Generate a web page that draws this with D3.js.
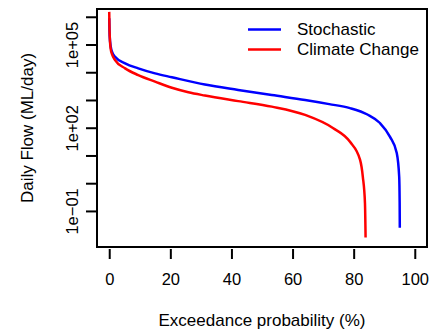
<!DOCTYPE html>
<html>
<head>
<meta charset="utf-8">
<script src="https://cdn.jsdelivr.net/npm/d3@7"></script>
<style>
  body { margin: 0; background: #fff; }
  text { font-family: "Liberation Sans", Arial, sans-serif; fill: #000; }
</style>
</head>
<body>
<script>
// exceedance probability (%) and daily flow (ML/day)
const stochProb = [0, 0.15, 0.5, 1, 1.9, 5.2, 9.5, 15, 20.5, 31.3, 42.2, 53.2, 64.1, 72, 78.8, 84.5, 88.6, 91.9, 94.1, 94.9, 95.05, 95.1];
const stochFlow = [8.9e5, 2.0e5, 8.3e4, 5.2e4, 3.6e4, 2.1e4, 1.38e4, 9.1e3, 6.6e3, 3.6e3, 2.3e3, 1.5e3, 1.0e3, 710, 510, 300, 148, 47, 12.3, 1.7, 0.2, 0.025];

const ccProb = [0, 0.1, 0.45, 1, 1.9, 5.2, 9.5, 15, 20.5, 25.9, 31.3, 42.2, 53.2, 64.1, 73.2, 78.8, 82.1, 83.0, 83.7, 83.9];
const ccFlow = [1.5e6, 3.2e5, 7.2e4, 4.2e4, 2.75e4, 1.38e4, 7.9e3, 4.6e3, 2.75e3, 1.9e3, 1.45e3, 910, 575, 290, 98, 31, 6.9, 1.7, 0.19, 0.011];

const xTicks = [0, 20, 40, 60, 80, 100];
const yTicks = [0.1, 1, 10, 100, 1e3, 1e4, 1e5, 1e6];
const yTickLabels = ["1e\u221201", "", "", "1e+02", "", "", "1e+05", ""];

const series = [
  { name: "Stochastic", prob: stochProb, flow: stochFlow, color: "#0000ff" },
  { name: "Climate Change", prob: ccProb, flow: ccFlow, color: "#ff0000" }
];

const width = 430, height = 335;
const box = { left: 97, right: 427, top: 9, bottom: 247 };

const svg = d3.select("body").append("svg").attr("width", width).attr("height", height);

const x = d3.scaleLinear().domain([-4, 104]).range([box.left, box.right]);
const y = d3.scaleLog().domain([Math.pow(10, -2.3), Math.pow(10, 6.28)]).range([box.bottom, box.top]);

// curves
const line = d3.line()
  .x(d => x(d[0]))
  .y(d => y(d[1]))
  .curve(d3.curveMonotoneX);

svg.append("defs").append("clipPath").attr("id", "clip")
  .append("rect")
  .attr("x", box.left).attr("y", box.top)
  .attr("width", box.right - box.left).attr("height", box.bottom - box.top);

series.forEach(s => {
  svg.append("path")
    .datum(d3.zip(s.prob, s.flow))
    .attr("clip-path", "url(#clip)")
    .attr("fill", "none")
    .attr("stroke", s.color)
    .attr("stroke-width", 2.5)
    .attr("d", line);
});

// box
svg.append("rect")
  .attr("x", box.left).attr("y", box.top)
  .attr("width", box.right - box.left).attr("height", box.bottom - box.top)
  .attr("fill", "none").attr("stroke", "#000").attr("stroke-width", 2);

// x axis
const gx = svg.append("g")
  .attr("transform", "translate(0," + (box.bottom + 2) + ")")
  .call(d3.axisBottom(x).tickValues(xTicks).tickSize(10).tickFormat(d3.format("d")));
gx.select(".domain").remove();
gx.selectAll(".tick line").attr("stroke-width", 2);
gx.selectAll(".tick text")
  .attr("y", 30).attr("dy", "0.35em")
  .style("font-size", "16.5px");

// y axis
const gy = svg.append("g")
  .attr("transform", "translate(" + box.left + ",0)")
  .call(d3.axisLeft(y).tickValues(yTicks).tickSize(11)
    .tickFormat((d, i) => yTickLabels[i]));
gy.select(".domain").remove();
gy.selectAll(".tick line").attr("stroke-width", 2);
gy.selectAll(".tick text")
  .attr("transform", "rotate(-90)")
  .attr("x", 0).attr("y", -25).attr("dy", "0.35em")
  .attr("text-anchor", "middle")
  .style("font-size", "16.5px");

// axis titles
svg.append("text")
  .attr("x", (box.left + box.right) / 2).attr("y", 320).attr("dy", "0.35em")
  .attr("text-anchor", "middle").style("font-size", "17px")
  .text("Exceedance probability (%)");

svg.append("text")
  .attr("transform", "translate(27.5," + (box.top + box.bottom) / 2 + ") rotate(-90)")
  .attr("dy", "0.35em")
  .attr("text-anchor", "middle").style("font-size", "17px")
  .text("Daily Flow (ML/day)");

// legend
const legend = svg.append("g");
series.forEach((s, i) => {
  const ly = 29.5 + i * 20;
  legend.append("line")
    .attr("x1", 248).attr("x2", 281).attr("y1", ly).attr("y2", ly)
    .attr("stroke", s.color).attr("stroke-width", 2.5);
  legend.append("text")
    .attr("x", 297).attr("y", ly).attr("dy", "0.35em")
    .style("font-size", "17px")
    .text(s.name);
});
</script>
</body>
</html>
